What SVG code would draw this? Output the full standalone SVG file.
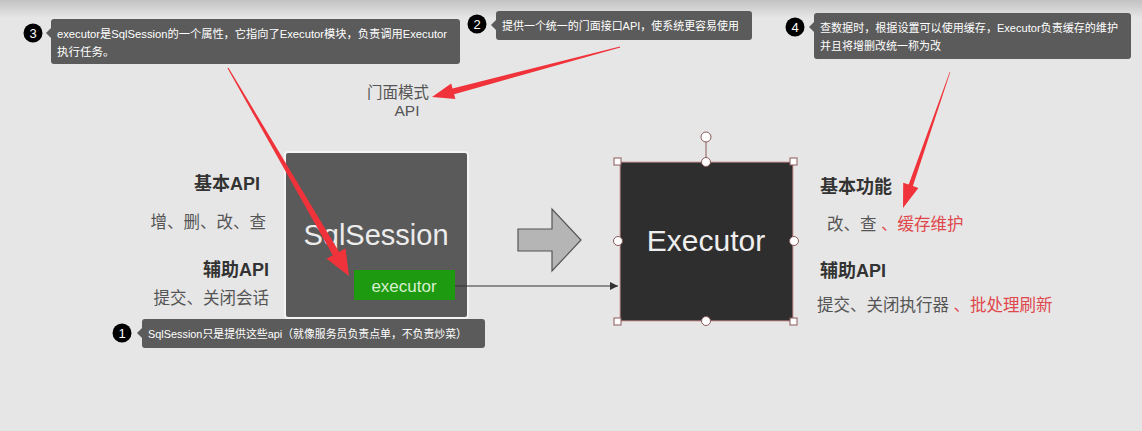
<svg xmlns="http://www.w3.org/2000/svg" width="1142" height="431" viewBox="0 0 1142 431">
<defs>
<linearGradient id="topg" x1="0" y1="0" x2="0" y2="1">
<stop offset="0" stop-color="#c2c2c2"/>
<stop offset="1" stop-color="#e6e6e6"/>
</linearGradient>
<marker id="ah" viewBox="0 0 10 10" refX="10" refY="5" markerWidth="8" markerHeight="8" markerUnits="userSpaceOnUse" orient="auto">
<path d="M0,0 L10,5 L0,10 z" fill="#333"/>
</marker>
<style>
.tip{fill:#5b5b5b}
.tt{font-family:"Liberation Sans","Noto Sans CJK SC",sans-serif;font-size:11.5px;fill:#ffffff}
.num{fill:#000}
.numt{font-family:"Liberation Sans",sans-serif;font-size:13px;fill:#fff;text-anchor:middle}
.lbl{font-family:"Liberation Sans","Noto Sans CJK SC",sans-serif;font-size:16.5px;fill:#555}
.hd{font-family:"Liberation Sans","Noto Sans CJK SC",sans-serif;font-size:18px;font-weight:bold;fill:#333}
.red{fill:#e0474b}
.rarrow{fill:#f0333a}
.hdl{fill:#fff;stroke:#8a5a5a;stroke-width:1}
</style>
</defs>
<rect width="1142" height="431" fill="#e6e6e6"/>
<rect width="1142" height="18" fill="url(#topg)"/>

<g id="facade-label">
<text class="lbl" x="398" y="98" text-anchor="middle" style="font-size:15.5px">门面模式</text>
<text class="lbl" x="407" y="116" text-anchor="middle" style="font-size:15.5px">API</text>
</g>

<g id="left-labels">
<text class="hd" x="260" y="190" text-anchor="end">基本API</text>
<text class="lbl" x="266" y="228" text-anchor="end">增、删、改、查</text>
<text class="hd" x="269" y="276" text-anchor="end">辅助API</text>
<text class="lbl" x="269" y="304" text-anchor="end">提交、关闭会话</text>
</g>

<g id="sqlsession">
<rect x="285" y="152" width="183" height="166" rx="3" fill="#5a5a5a" stroke="#f4f4f4" stroke-width="2"/>
<text x="376" y="245" text-anchor="middle" font-family="'Liberation Sans',sans-serif" font-size="29" fill="#ececec">SqlSession</text>
</g>
<g id="executor-field">
<rect x="354" y="270" width="101" height="30" fill="#1e9a10"/>
<text x="404" y="292" text-anchor="middle" font-family="'Liberation Sans',sans-serif" font-size="17" fill="#d8f0d0">executor</text>
</g>

<g id="block-arrow">
<polygon points="518,229 552,229 552,209 581,240 552,271 552,251 518,251" fill="#b5b5b5" stroke="#555" stroke-width="1.2"/>
</g>

<g id="executor">
<rect x="620" y="162" width="173" height="159" fill="#2e2e2e" stroke="#d8a0a0" stroke-width="1"/>
<text x="706" y="251" text-anchor="middle" font-family="'Liberation Sans',sans-serif" font-size="30" fill="#eeeeee">Executor</text>
<line x1="706" y1="142" x2="706" y2="162" stroke="#8a5a5a" stroke-width="1"/>
<circle class="hdl" cx="706" cy="137" r="5"/>
<rect class="hdl" x="614" y="158" width="7" height="7"/>
<rect class="hdl" x="790" y="158" width="7" height="7"/>
<rect class="hdl" x="614" y="318" width="7" height="7"/>
<rect class="hdl" x="790" y="318" width="7" height="7"/>
<circle class="hdl" cx="706" cy="162" r="4.5"/>
<circle class="hdl" cx="618" cy="241" r="4.5"/>
<circle class="hdl" cx="794" cy="241" r="4.5"/>
<circle class="hdl" cx="706" cy="321" r="4.5"/>
</g>

<g id="right-labels">
<text class="hd" x="820" y="193">基本功能</text>
<text class="lbl" x="827" y="230">改、查 <tspan class="red">、缓存维护</tspan></text>
<text class="hd" x="820" y="277">辅助API</text>
<text class="lbl" x="817" y="311">提交、关闭执行器 <tspan class="red">、批处理刷新</tspan></text>
</g>

<g id="connectors">
<line x1="455" y1="286" x2="618" y2="286" stroke="#333" stroke-width="1.2" marker-end="url(#ah)"/>
<polygon class="rarrow" points="620,46.6 620.2,47.4 454.1,94.2 455.4,99.0 432,97 451.2,83.6 452.5,88.4"/>
<polygon class="rarrow" points="227.5,68.3 228.5,67.7 339.2,251.9 345.5,248.3 349,276 326.5,258.8 332.8,255.2"/>
<polygon class="rarrow" points="949.7,71.9 950.3,72.1 912.9,186.1 918.4,187.9 903,208 903.2,182.7 908.7,184.6"/>
</g>

<g id="callout-3">
<rect class="tip" x="51" y="19" width="409" height="45" rx="3"/>
<polygon class="tip" points="51,28 46,33 51,38"/>
<circle class="num" cx="33" cy="33" r="9.5"/>
<text class="numt" x="33" y="38">3</text>
<text class="tt" x="57" y="38" textLength="390" lengthAdjust="spacingAndGlyphs">executor是SqlSession的一个属性，它指向了Executor模块，负责调用Executor</text>
<text class="tt" x="57" y="56">执行任务。</text>
</g>

<g id="callout-2">
<rect class="tip" x="496" y="11" width="256" height="29" rx="3"/>
<polygon class="tip" points="496,20 491,25 496,30"/>
<circle class="num" cx="477" cy="24" r="9.5"/>
<text class="numt" x="477" y="29">2</text>
<text class="tt" x="502" y="30" textLength="237" lengthAdjust="spacingAndGlyphs">提供一个统一的门面接口API，使系统更容易使用</text>
</g>

<g id="callout-4">
<rect class="tip" x="814" y="13" width="317" height="46" rx="3"/>
<polygon class="tip" points="814,22 809,27 814,32"/>
<circle class="num" cx="795" cy="27" r="9.5"/>
<text class="numt" x="795" y="32">4</text>
<text class="tt" x="820" y="32" textLength="298" lengthAdjust="spacingAndGlyphs">查数据时，根据设置可以使用缓存，Executor负责缓存的维护</text>
<text class="tt" x="820" y="50" textLength="121" lengthAdjust="spacingAndGlyphs">并且将增删改统一称为改</text>
</g>

<g id="callout-1">
<rect class="tip" x="142" y="319" width="343" height="29" rx="3"/>
<polygon class="tip" points="142,328 137,333 142,338"/>
<circle class="num" cx="122" cy="333" r="9.5"/>
<text class="numt" x="122" y="338">1</text>
<text class="tt" x="148" y="338" textLength="319" lengthAdjust="spacingAndGlyphs">SqlSession只是提供这些api（就像服务员负责点单，不负责炒菜）</text>
</g>
</svg>
